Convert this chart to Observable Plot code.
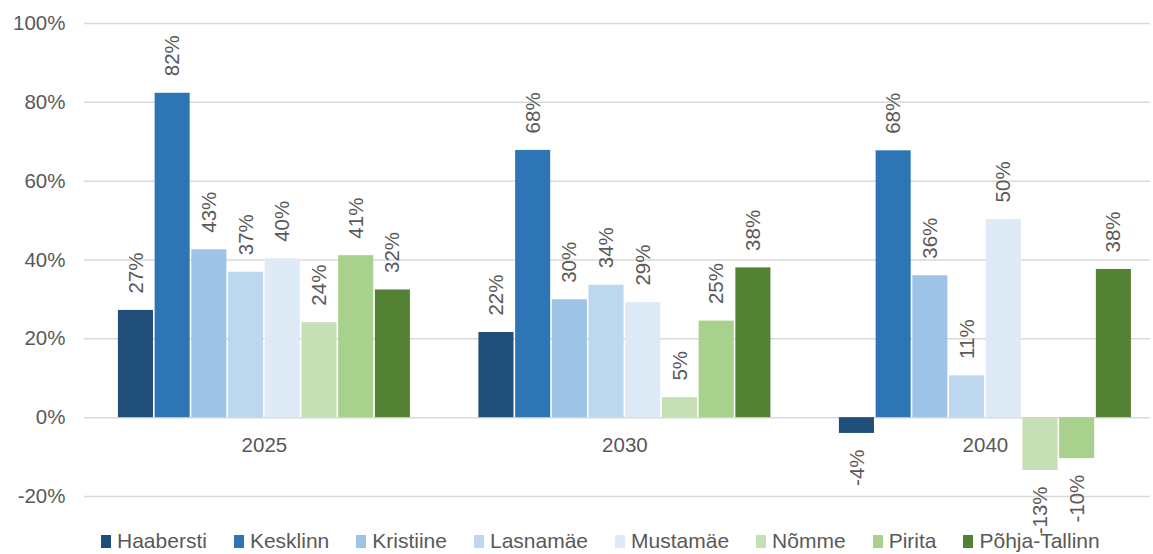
<!DOCTYPE html>
<html>
<head>
<meta charset="utf-8">
<script src="https://cdn.jsdelivr.net/npm/d3@7"></script>
<script src="https://cdn.jsdelivr.net/npm/@observablehq/plot@0.6"></script>
<style>
  html, body { margin: 0; padding: 0; background: #fff; }
  #wrap { position: relative; width: 1153px; height: 554px; overflow: hidden; font-family: "Liberation Sans", Arial, sans-serif; }
  #bg, #chart { position: absolute; left: 0; top: 0; }
  #legend { position: absolute; left: 0; top: 532px; width: 1153px; display: flex; justify-content: flex-start; padding-left: 101px; box-sizing: border-box; font-size: 21px; color: #595959; line-height: 18px; height: 18px; }
  .item { display: flex; align-items: center; margin-right: 27px; white-space: nowrap; }
  .item:last-child { margin-right: 0; }
  .sw { width: 10px; height: 13px; margin-right: 6px; display: inline-block; }
</style>
</head>
<body>
<div id="wrap"><div id="bg"></div><div id="chart"></div><div id="legend"></div></div>
<script>
const years = ["2025", "2030", "2040"];
const series = ["Haabersti", "Kesklinn", "Kristiine", "Lasnamäe", "Mustamäe", "Nõmme", "Pirita", "Põhja-Tallinn"];
const colors = ["#1F4E79", "#2E75B6", "#9DC3E6", "#BDD7EE", "#DEEBF7", "#C5E0B4", "#A9D18E", "#548235"];
const v2025 = [27.2, 82.3, 42.6, 36.9, 40.3, 24.1, 41.1, 32.4];
const v2030 = [21.6, 67.8, 29.9, 33.6, 29.2, 5.1, 24.5, 38.0];
const v2040 = [-4.0, 67.7, 36.0, 10.6, 50.3, -13.4, -10.4, 37.6];
const yTicks = [-20, 0, 20, 40, 60, 80, 100];

const valuesByYear = [v2025, v2030, v2040];
const data = years.flatMap((yr, i) => series.map((s, j) => ({year: yr, series: s, value: valuesByYear[i][j]})));
const fmt = v => Math.round(v) + "%";
const grey = "#595959";

const common = {
  width: 1153,
  height: 530,
  marginLeft: 84,
  marginRight: 3,
  marginTop: 23,
  marginBottom: 34
};
const font = {fontFamily: "'Liberation Sans', Arial, sans-serif", fontSize: "20.5px", color: grey};

// Background: continuous gridlines and y axis across the whole frame
const bg = Plot.plot({
  ...common,
  style: {...font, background: "#fff"},
  y: {domain: [-20, 100], ticks: yTicks, tickFormat: d => d + "%", tickSize: 0, tickPadding: 19, label: null},
  marks: [
    Plot.ruleY(yTicks, {stroke: "#d9d9d9", strokeWidth: 1.5})
  ]
});
document.getElementById("bg").appendChild(bg);

// Foreground: grouped bars with facets
const chart = Plot.plot({
  ...common,
  style: {...font, background: "transparent", overflow: "visible"},
  fx: {domain: years, paddingInner: 0.19, paddingOuter: 0.0735, align: 0.64, round: false, axis: null, label: null},
  x: {domain: series, paddingInner: 0.045, paddingOuter: 0, round: false, axis: null},
  y: {domain: [-20, 100], axis: null},
  color: {domain: series, range: colors},
  marks: [
    Plot.barY(data, {fx: "year", x: "series", y: "value", fill: "series"}),
    Plot.text(years, {fx: d => d, y: 0, text: d => d, dy: 28, fill: grey}),
    Plot.text(data.filter(d => d.value >= 0), {fx: "year", x: "series", y: "value", text: d => fmt(d.value), rotate: -90, textAnchor: "start", dy: -17, fill: grey}),
    Plot.text(data.filter(d => d.value < 0), {fx: "year", x: "series", y: "value", text: d => fmt(d.value), rotate: -90, textAnchor: "end", dy: 16, fill: grey})
  ]
});
document.getElementById("chart").appendChild(chart);

const legend = document.getElementById("legend");
series.forEach((s, i) => {
  const item = document.createElement("div");
  item.className = "item";
  const sw = document.createElement("span");
  sw.className = "sw";
  sw.style.background = colors[i];
  const t = document.createElement("span");
  t.textContent = s;
  item.appendChild(sw);
  item.appendChild(t);
  legend.appendChild(item);
});
</script>
</body>
</html>
